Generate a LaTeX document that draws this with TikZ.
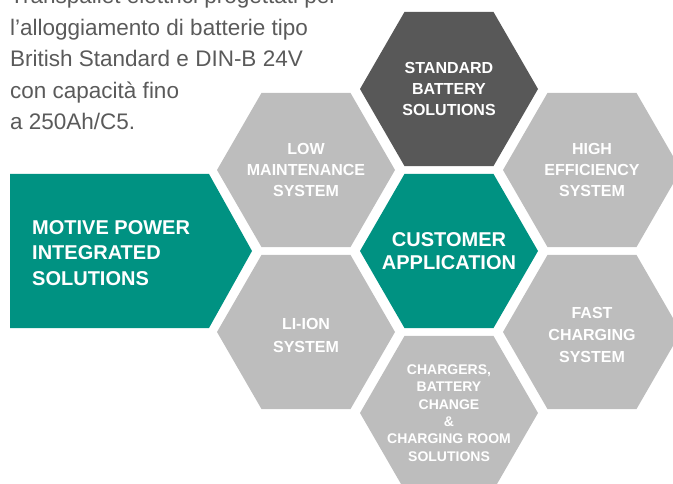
\documentclass[tikz,border=0pt]{standalone}
\usepackage{fontspec}
\setmainfont{Liberation Sans}
\usetikzlibrary{shapes.geometric}

\definecolor{hexteal}{RGB}{0,146,130}
\definecolor{hexdark}{RGB}{88,88,88}
\definecolor{hexlight}{RGB}{189,189,189}
\definecolor{bodygray}{RGB}{90,90,90}

\begin{document}
\begin{tikzpicture}[
		x=1pt, y=-1pt,
		hexa/.style={regular polygon, regular polygon sides=6, minimum size=178pt, inner sep=0pt, outer sep=0pt},
		every label/.append style={text=white, align=center, inner sep=0pt, font=\bfseries\fontsize{16}{21}\selectfont}
	]
  \useasboundingbox (0,0) rectangle (673,484);
  \node (intro) [anchor=north west, align=left, inner sep=0pt, text=bodygray, font=\fontsize{22.5}{31.5}\selectfont] at (10,-13)
    {Transpallet elettrici progettati per\\l’alloggiamento di batterie tipo\\British Standard e DIN-B 24V\\con capacità fino\\a 250Ah/C5.};
  \fill [hexteal] (10,174) -- (209,174) -- (252,251) -- (209,328) -- (10,328) -- cycle;
  \node (motive) [anchor=west, align=left, inner sep=0pt, text=white, font=\bfseries\fontsize{20}{25.5}\selectfont] at (32,253)
    {MOTIVE POWER\\INTEGRATED\\SOLUTIONS};
  \node (std) [hexa, fill=hexdark, label=center:{STANDARD\\BATTERY\\SOLUTIONS}] at (449,89) {};
  \node (low) [hexa, fill=hexlight, label=center:{LOW\\MAINTENANCE\\SYSTEM}] at (306,170) {};
  \node (high) [hexa, fill=hexlight, label=center:{HIGH\\EFFICIENCY\\SYSTEM}] at (592,170) {};
  \node (cust) [hexa, fill=hexteal, label={[font=\bfseries\fontsize{20}{23}\selectfont]center:{CUSTOMER\\APPLICATION}}] at (449,251) {};
  \node (liion) [hexa, fill=hexlight, label={[yshift=-3pt, font=\bfseries\fontsize{16}{23}\selectfont]center:{LI-ION\\SYSTEM}}] at (306,332) {};
  \node (fast) [hexa, fill=hexlight, label={[yshift=-3pt, font=\bfseries\fontsize{16}{22}\selectfont]center:{FAST\\CHARGING\\SYSTEM}}] at (592,332) {};
  \node (chg) [hexa, fill=hexlight, label={[font=\bfseries\fontsize{14}{17.3}\selectfont]center:{CHARGERS,\\BATTERY\\CHANGE\\\&\\CHARGING ROOM\\SOLUTIONS}}] at (449,413) {};
\end{tikzpicture}
\end{document}
